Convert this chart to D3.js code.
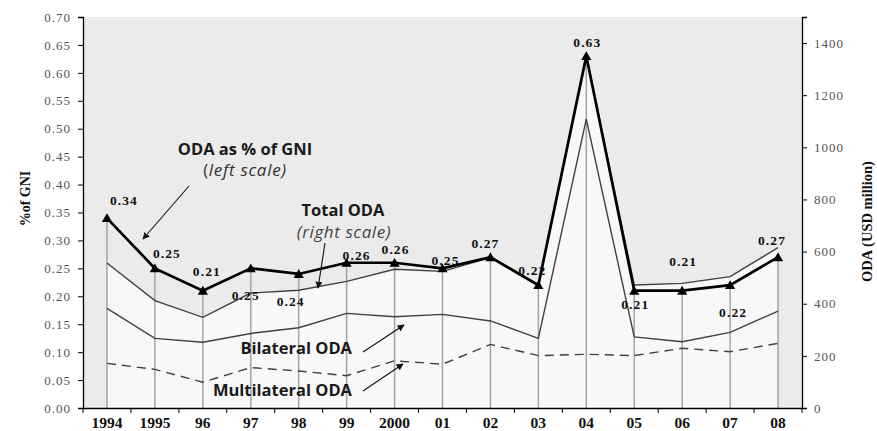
<!DOCTYPE html>
<html>
<head>
<meta charset="utf-8">
<script src="https://cdn.jsdelivr.net/npm/d3@7"></script>
<style>
  html, body { margin: 0; padding: 0; background: #ffffff; }
  svg { display: block; }
</style>
</head>
<body>
<svg id="chart" width="877" height="431"></svg>
<script>
// ---------------- data ----------------
const years = ['1994', '1995', '96', '97', '98', '99', '2000', '01', '02', '03', '04', '05', '06', '07', '08'];
const gniPct = [0.34, 0.25, 0.21, 0.25, 0.24, 0.26, 0.26, 0.25, 0.27, 0.22, 0.63, 0.21, 0.21, 0.22, 0.27];
const totalODA = [556, 412, 348, 441, 452, 486, 532, 524, 577, 468, 1350, 472, 478, 504, 615];
const bilateralODA = [382, 267, 252, 286, 308, 363, 350, 359, 334, 267, 1108, 273, 254, 290, 372];
const multilateralODA = [171, 148, 99, 155, 142, 124, 181, 168, 244, 201, 206, 201, 229, 216, 248];
const leftTicks = [0, 0.05, 0.10, 0.15, 0.20, 0.25, 0.30, 0.35, 0.40, 0.45, 0.50, 0.55, 0.60, 0.65, 0.70];
const rightTicks = [0, 200, 400, 600, 800, 1000, 1200, 1400];
const leftTitle = '%of GNI';
const rightTitle = 'ODA (USD million)';

// label placement (offsets from the point, in px)
const labelDx = [17, 12, 4, -5, -8, 10, 1, 3, -5, -6, 1, 1, 1, 3, -6];
const labelDy = [-13, -10, -15, 32, 32, -3, -9, -3, -9, -10, -9, 18, -25, 32, -12];

// ---------------- layout ----------------
const svg = d3.select('#chart');
const M = { left: 83, right: 802, top: 17, bottom: 408 };

const x = d3.scaleBand().domain(years).range([M.left, M.right]);
const cx = d => x(d) + x.bandwidth() / 2;
const yL = d3.scaleLinear().domain([0, 0.70]).range([M.bottom, M.top]);
const yR = d3.scaleLinear().domain([0, 1500]).range([M.bottom, M.top]);

const serif = "'Liberation Serif', 'Times New Roman', serif";
const sans = "'Open Sans', Lato, sans-serif";

// defs
const defs = svg.append('defs');
defs.append('marker')
  .attr('id', 'arrow')
  .attr('viewBox', '0 0 10 10')
  .attr('refX', 9).attr('refY', 5)
  .attr('markerWidth', 7).attr('markerHeight', 7)
  .attr('markerUnits', 'userSpaceOnUse')
  .attr('orient', 'auto')
  .append('path').attr('d', 'M0,0 L10,5 L0,10 Z').attr('fill', '#111');

// plot background
svg.append('rect')
  .attr('x', M.left).attr('y', M.top)
  .attr('width', M.right - M.left).attr('height', M.bottom - M.top)
  .attr('fill', '#ebebeb');

// light area under total ODA
const area = d3.area()
  .x((d, i) => cx(years[i]))
  .y0(M.bottom)
  .y1(d => yR(d));
svg.append('path').datum(totalODA)
  .attr('d', area)
  .attr('fill', '#f8f8f8');

// drop lines
svg.append('g').selectAll('line').data(gniPct).join('line')
  .attr('x1', (d, i) => cx(years[i])).attr('x2', (d, i) => cx(years[i]))
  .attr('y1', d => yL(d)).attr('y2', M.bottom)
  .attr('stroke', '#a4a4a4').attr('stroke-width', 1.5);

// series lines
const lineR = d3.line().x((d, i) => cx(years[i])).y(d => yR(d));
const lineL = d3.line().x((d, i) => cx(years[i])).y(d => yL(d));

svg.append('path').datum(multilateralODA)
  .attr('d', lineR).attr('fill', 'none')
  .attr('stroke', '#404040').attr('stroke-width', 1.4)
  .attr('stroke-dasharray', '9,6');

svg.append('path').datum(bilateralODA)
  .attr('d', lineR).attr('fill', 'none')
  .attr('stroke', '#404040').attr('stroke-width', 1.4);

svg.append('path').datum(totalODA)
  .attr('d', lineR).attr('fill', 'none')
  .attr('stroke', '#404040').attr('stroke-width', 1.4);

svg.append('path').datum(gniPct)
  .attr('d', lineL).attr('fill', 'none')
  .attr('stroke', '#000').attr('stroke-width', 2.7)
  .attr('stroke-linejoin', 'miter');

// triangle markers
svg.append('g').selectAll('path').data(gniPct).join('path')
  .attr('d', d3.symbol().type(d3.symbolTriangle).size(45))
  .attr('transform', (d, i) => `translate(${cx(years[i])},${yL(d) + 1})`)
  .attr('fill', '#000');

// data labels
svg.append('g').selectAll('text').data(gniPct).join('text')
  .attr('x', (d, i) => cx(years[i]) + labelDx[i])
  .attr('y', (d, i) => yL(d) + labelDy[i])
  .attr('text-anchor', 'middle')
  .style('font-family', serif).style('font-weight', 'bold').style('font-size', '13.5px')
  .style('letter-spacing', '1.1px')
  .attr('fill', '#111')
  .text(d => d.toFixed(2));

// ---------------- axes ----------------
const axL = svg.append('g').attr('transform', `translate(${M.left},0)`)
  .call(d3.axisLeft(yL).tickValues(leftTicks).tickSize(5).tickPadding(7).tickFormat(d3.format('.2f')));
axL.select('.domain').attr('stroke', '#000').attr('stroke-width', 1.3);
axL.selectAll('.tick line').attr('stroke', '#000');
axL.selectAll('.tick text').style('font-family', serif).style('font-size', '13px')
  .style('letter-spacing', '1px').attr('fill', '#555');

const axR = svg.append('g').attr('transform', `translate(${M.right},0)`)
  .call(d3.axisRight(yR).tickValues(rightTicks).tickSize(5).tickPadding(7).tickFormat(d3.format('d')));
axR.select('.domain').attr('stroke', '#000').attr('stroke-width', 1.3);
axR.selectAll('.tick line').attr('stroke', '#000');
axR.selectAll('.tick text').style('font-family', serif).style('font-size', '13px')
  .style('letter-spacing', '1px').attr('fill', '#555');

const axB = svg.append('g').attr('transform', `translate(0,${M.bottom})`)
  .call(d3.axisBottom(x).tickSize(0).tickPadding(9));
axB.select('.domain').attr('stroke', '#000').attr('stroke-width', 1.3);
axB.selectAll('.tick text').style('font-family', serif).style('font-weight', 'bold')
  .style('font-size', '15.5px').attr('fill', '#111');
// boundary ticks between categories
svg.append('g').selectAll('line').data(years.concat(['end'])).join('line')
  .attr('x1', (d, i) => i < years.length ? x(d) : M.right)
  .attr('x2', (d, i) => i < years.length ? x(d) : M.right)
  .attr('y1', M.bottom).attr('y2', M.bottom + 5)
  .attr('stroke', '#000').attr('stroke-width', 1);

// axis titles
svg.append('text')
  .attr('transform', `translate(30,${(M.top + M.bottom) / 2 - 14}) rotate(-90)`)
  .attr('text-anchor', 'middle')
  .style('font-family', serif).style('font-weight', 'bold').style('font-size', '14px')
  .attr('fill', '#111')
  .text(leftTitle);
svg.append('text')
  .attr('transform', `translate(872,${(M.top + M.bottom) / 2 + 9}) rotate(-90)`)
  .attr('text-anchor', 'middle')
  .style('font-family', serif).style('font-weight', 'bold').style('font-size', '14.5px')
  .attr('fill', '#111')
  .text(rightTitle);

// ---------------- annotations ----------------
function annot(txt, ax, ay, opts) {
  return svg.append('text')
    .attr('x', ax).attr('y', ay)
    .attr('text-anchor', opts.anchor || 'middle')
    .style('font-family', sans)
    .style('font-size', (opts.size || 16.5) + 'px')
    .style('font-weight', opts.weight || 'bold')
    .style('font-style', opts.style || 'normal')
    .style('letter-spacing', opts.ls || '0px')
    .attr('fill', opts.fill || '#1a1a1a')
    .text(txt);
}
annot('ODA as % of GNI', 245, 155, {});
const ls = svg.append('text').attr('x', 245).attr('y', 176).attr('text-anchor', 'middle')
  .style('font-family', sans).style('font-size', '17px').style('letter-spacing', '0.7px').attr('fill', '#333');
ls.append('tspan').text('(');
ls.append('tspan').style('font-style', 'italic').text('left scale)');

annot('Total ODA', 343, 216, {});
annot('(right scale)', 344, 238, { weight: 'normal', style: 'italic', size: 17, fill: '#444', ls: '0.6px' });
annot('Bilateral ODA', 352, 354, { anchor: 'end' });
annot('Multilateral ODA', 352, 396, { anchor: 'end' });

function arrow(x1, y1, x2, y2) {
  svg.append('line')
    .attr('x1', x1).attr('y1', y1).attr('x2', x2).attr('y2', y2)
    .attr('stroke', '#111').attr('stroke-width', 1.1)
    .attr('marker-end', 'url(#arrow)');
}
arrow(189, 186, 143, 239);
arrow(325, 243, 318, 288);
arrow(363, 352, 404, 325);
arrow(363, 391, 403, 364);
</script>
</body>
</html>
